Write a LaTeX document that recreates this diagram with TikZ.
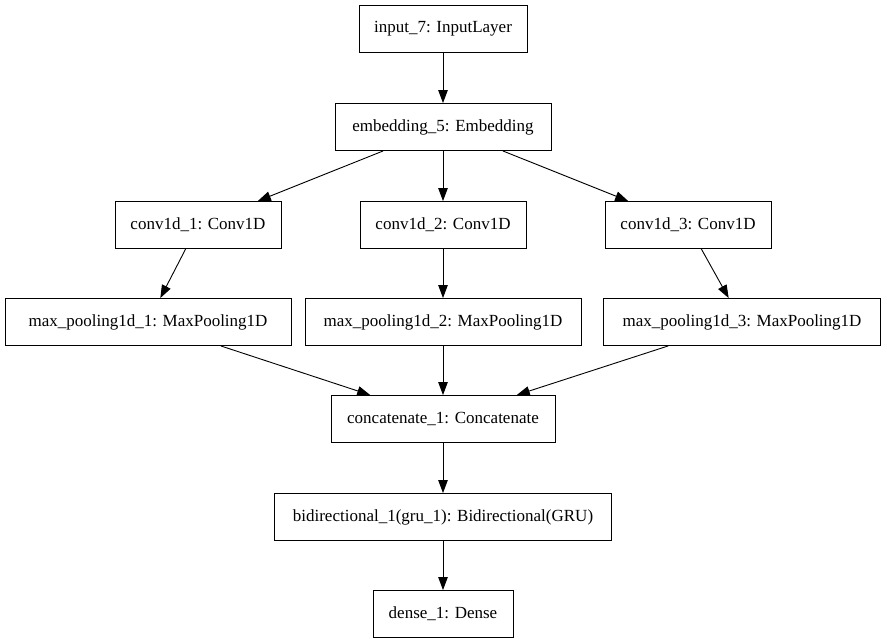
\documentclass[tikz,border=0pt]{standalone}
\usepackage{fontspec}
\setmainfont{Liberation Serif}
\usetikzlibrary{arrows.meta}

\begin{document}
\begin{tikzpicture}[x=1pt,y=-1pt,
    layer/.style={draw, line width=0.9pt, minimum height=47pt, inner sep=0pt,
      font=\fontsize{17}{19}\selectfont},
    edge/.style={line width=0.9pt, -{Triangle[length=13pt,width=9.5pt]}}]
  \useasboundingbox (0,0) rectangle (887,644);

  \node [layer, minimum width=168pt] (input) at (443,29) {input\_7: InputLayer};
  \node [layer, minimum width=216pt] (embed) at (443,127) {embedding\_5: Embedding};

  \node [layer, minimum width=166pt] (conv1) at (198,225) {conv1d\_1: Conv1D};
  \node [layer, minimum width=166pt] (conv2) at (443,225) {conv1d\_2: Conv1D};
  \node [layer, minimum width=166pt] (conv3) at (688,225) {conv1d\_3: Conv1D};

  \node [layer, minimum width=286pt] (pool1) at (148,322) {max\_pooling1d\_1: MaxPooling1D};
  \node [layer, minimum width=276pt] (pool2) at (443,322) {max\_pooling1d\_2: MaxPooling1D};
  \node [layer, minimum width=277pt] (pool3) at (742,322) {max\_pooling1d\_3: MaxPooling1D};

  \node [layer, minimum width=224pt] (concat) at (443,419) {concatenate\_1: Concatenate};
  \node [layer, minimum width=337pt] (bigru) at (443,517) {bidirectional\_1(gru\_1): Bidirectional(GRU)};
  \node [layer, minimum width=140pt] (dense) at (443,614) {dense\_1: Dense};

  \draw [edge] (input) -- (embed);
  \draw [edge] (embed) -- (conv1);
  \draw [edge] (embed) -- (conv2);
  \draw [edge] (embed) -- (conv3);
  \draw [edge] (conv1) -- (pool1);
  \draw [edge] (conv2) -- (pool2);
  \draw [edge] (conv3) -- (pool3);
  \draw [edge] (pool1) -- (concat);
  \draw [edge] (pool2) -- (concat);
  \draw [edge] (pool3) -- (concat);
  \draw [edge] (concat) -- (bigru);
  \draw [edge] (bigru) -- (dense);
\end{tikzpicture}
\end{document}
